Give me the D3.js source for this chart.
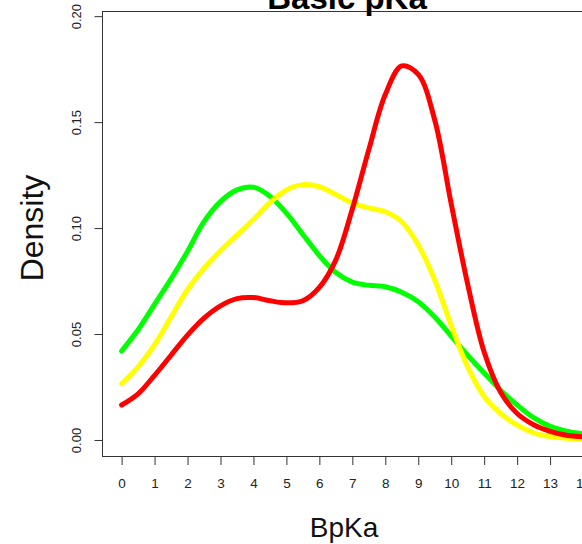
<!DOCTYPE html>
<html>
<head>
<meta charset="utf-8">
<script src="https://cdn.jsdelivr.net/npm/d3@7"></script>
<style>
  html, body { margin: 0; padding: 0; background: #fff; }
  svg { display: block; font-family: "Liberation Sans", Arial, Helvetica, sans-serif; }
</style>
</head>
<body>
<svg id="chart" width="582" height="544"></svg>
<script>
// ---- Data ----
const title = "Basic pKa";
const xLabel = "BpKa";
const yLabel = "Density";
const xTicks = [0, 1, 2, 3, 4, 5, 6, 7, 8, 9, 10, 11, 12, 13, 14];
const yTicks = [0.00, 0.05, 0.10, 0.15, 0.20];
const yTickLabels = ["0.00", "0.05", "0.10", "0.15", "0.20"];

const xGrid = [0, 0.5, 1, 1.5, 2, 2.5, 3, 3.5, 4, 4.5, 5, 5.5, 6, 6.5, 7, 7.5,
               8, 8.5, 9, 9.5, 10, 10.5, 11, 11.5, 12, 12.5, 13, 13.5, 14];

const greenDensity = [0.042, 0.052, 0.064, 0.076, 0.089, 0.103, 0.1125, 0.118, 0.1193, 0.115,
                      0.107, 0.097, 0.087, 0.079, 0.0745, 0.073, 0.0723, 0.0697, 0.0652, 0.058,
                      0.049, 0.040, 0.0316, 0.0235, 0.0165, 0.0105, 0.0064, 0.0041, 0.0029];

const yellowDensity = [0.0265, 0.0345, 0.045, 0.058, 0.071, 0.081, 0.0893, 0.0967, 0.104, 0.112,
                       0.118, 0.1205, 0.1195, 0.1158, 0.1118, 0.1095, 0.1077, 0.103, 0.092, 0.0755,
                       0.054, 0.0345, 0.0205, 0.0125, 0.007, 0.0034, 0.0016, 0.0008, 0.0005];

const redDensity = [0.0165, 0.0218, 0.0305, 0.040, 0.0495, 0.0575, 0.0633, 0.0667, 0.0672, 0.0657,
                    0.0647, 0.0657, 0.072, 0.085, 0.109, 0.137, 0.163, 0.1765, 0.1725, 0.151,
                    0.1115, 0.0735, 0.0415, 0.0225, 0.0125, 0.0072, 0.0041, 0.0022, 0.0015];

const seriesNames = ["green", "yellow", "red"];
const seriesValues = [greenDensity, yellowDensity, redDensity];
const seriesColors = ["#00ff00", "#ffff00", "#ff0000"];

// ---- Layout ----
const svg = d3.select("#chart");
const box = { left: 102.5, right: 587, top: 11.5, bottom: 456.5 };

const x = d3.scaleLinear().domain([-0.58, 14.12]).range([box.left, box.right]);
const y = d3.scaleLinear().domain([-0.0078, 0.2022]).range([box.bottom, box.top]);

// Curves
const line = d3.line()
  .x((d, i) => x(xGrid[i]))
  .y(d => y(d))
  .curve(d3.curveCatmullRom.alpha(0.5));

svg.append("g").selectAll("path")
  .data(seriesValues)
  .join("path")
  .attr("d", d => line(d))
  .attr("fill", "none")
  .attr("stroke", (d, i) => seriesColors[i])
  .attr("stroke-width", 5)
  .attr("stroke-linejoin", "round")
  .attr("stroke-linecap", "round");

// Box
svg.append("rect")
  .attr("x", box.left).attr("y", box.top)
  .attr("width", box.right - box.left).attr("height", box.bottom - box.top)
  .attr("fill", "none").attr("stroke", "#333").attr("stroke-width", 1);

// Y axis (ticks + rotated labels)
const yAxis = d3.axisLeft(y).tickValues(yTicks).tickSize(8).tickSizeOuter(0)
  .tickFormat((d, i) => yTickLabels[i]);
const gy = svg.append("g").attr("transform", `translate(${box.left},0)`).call(yAxis);
gy.select(".domain").remove();
gy.selectAll(".tick line").attr("stroke", "#333");
gy.selectAll(".tick text")
  .attr("x", null).attr("dy", null)
  .attr("text-anchor", "middle")
  .attr("transform", "translate(-22,0) rotate(-90)")
  .attr("font-size", 13)
  .attr("font-family", "'Liberation Sans', Arial, sans-serif")
  .attr("fill", "#222");

// X axis
const xAxis = d3.axisBottom(x).tickValues(xTicks).tickSize(8).tickSizeOuter(0)
  .tickFormat(d3.format("d"));
const gx = svg.append("g").attr("transform", `translate(0,${box.bottom + 0.5})`).call(xAxis);
gx.select(".domain").remove();
gx.selectAll(".tick line").attr("stroke", "#333");
gx.selectAll(".tick text")
  .attr("y", 31).attr("dy", null)
  .attr("font-size", 13.5)
  .attr("font-family", "'Liberation Sans', Arial, sans-serif")
  .attr("fill", "#222");

// Axis titles
svg.append("text")
  .attr("x", 344).attr("y", 537)
  .attr("text-anchor", "middle")
  .attr("font-size", 28)
  .attr("fill", "#111")
  .text(xLabel);

svg.append("text")
  .attr("transform", "translate(43,228) rotate(-90)")
  .attr("text-anchor", "middle")
  .attr("font-size", 32)
  .attr("fill", "#111")
  .text(yLabel);

// Main title (cut off at top as in the reference)
svg.append("text")
  .attr("x", 347).attr("y", 9)
  .attr("text-anchor", "middle")
  .attr("font-size", 33)
  .attr("font-weight", "bold")
  .attr("fill", "#000")
  .text(title);
</script>
</body>
</html>
